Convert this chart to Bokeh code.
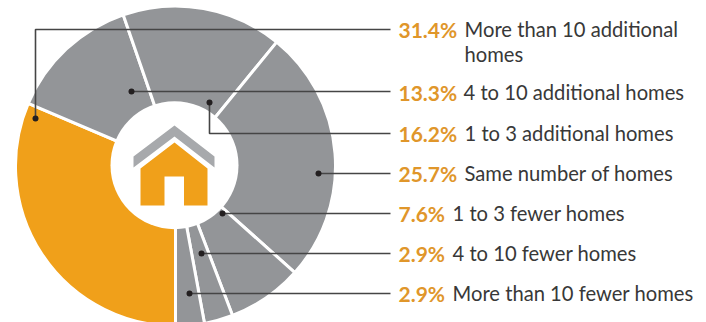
import math
from bokeh.plotting import figure
from bokeh.models import Range1d
from bokeh.core.properties import value
from bokeh.embed import file_html
from bokeh.resources import INLINE

# Survey shares, clockwise from six o'clock
shares = [31.4, 13.3, 16.2, 25.7, 7.6, 2.9, 2.9]
pct_labels = ["31.4%", "13.3%", "16.2%", "25.7%", "7.6%", "2.9%", "2.9%"]
cat_labels = ["More than 10 additional", "4 to 10 additional homes", "1 to 3 additional homes",
              "Same number of homes", "1 to 3 fewer homes", "4 to 10 fewer homes",
              "More than 10 fewer homes"]
slice_colors = ["#F0A01A", "#939598", "#939598", "#939598", "#939598", "#939598", "#939598"]

W, H = 706, 322
ORANGE, GREY, INK = "#F0A01A", "#939598", "#383838"
CX, CY, R_OUT = 175, 165.5, 160
HUB_X, HUB_Y, R_IN = 174, 164.7, 64


def fy(y):
    """Top-down pixel row to the upward data axis."""
    return H - y


p = figure(width=W, height=H, output_backend="svg", toolbar_location=None,
           x_range=Range1d(0, W), y_range=Range1d(0, H), min_border=0)
p.axis.visible = False
p.grid.visible = False
p.outline_line_color = None
p.background_fill_color = "white"

# Ring: shares accumulate clockwise, starting at the bottom
total = sum(shares)
starts, ends, run = [], [], 0.0
for s in shares:
    a0 = -math.pi / 2 - 2 * math.pi * run / total
    run += s
    a1 = -math.pi / 2 - 2 * math.pi * run / total
    starts.append(a1)
    ends.append(a0)
p.wedge(x=CX, y=fy(CY), radius=R_OUT, start_angle=starts, end_angle=ends,
        fill_color=slice_colors, line_color="white", line_width=3)
p.scatter(x=[HUB_X], y=[fy(HUB_Y)], size=2 * R_IN, marker="circle", fill_color="white", line_color=None)

# House icon in the hub
roof_x = [174, 214, 214, 174, 133, 133]
roof_y = [125, 156, 167, 136, 167, 156]
p.patch(roof_x, [fy(v) for v in roof_y], fill_color="#A7A9AC", line_color=None)
house_x = [174, 207, 207, 183.5, 183.5, 164, 164, 140, 140]
house_y = [142, 168, 205, 205, 176, 176, 205, 205, 168]
p.patch(house_x, [fy(v) for v in house_y], fill_color=ORANGE, line_color=None)

# Leader lines run from a dot inside each slice to its label row
leaders_x = [[35, 35, 390], [131, 390], [209, 209, 390], [318, 390], [222, 390], [201, 390], [189, 390]]
leaders_y = [[118, 29, 29], [91, 91], [102, 133, 133], [173, 173], [213, 213], [253, 253], [293, 293]]
for xs, ys in zip(leaders_x, leaders_y):
    p.line(xs, [fy(v) for v in ys], line_color="#454545", line_width=1.6)
p.scatter(x=[xs[0] for xs in leaders_x], y=[fy(ys[0]) for ys in leaders_y], size=6,
          marker="circle", fill_color="#231F20", line_color=None)

# Labels
rows = [28.5, 91.5, 132.5, 172.5, 212.5, 252.5, 292.5]
label_x = [464, 463, 464, 464, 452, 452, 452]
p.text(x=[398] * 7, y=[fy(v) for v in rows], text=pct_labels, text_font=value("Lato"),
       text_font_size="21px", text_font_style="bold", text_color="#E0962A",
       text_baseline="middle", text_align="left")
p.text(x=label_x, y=[fy(v) for v in rows], text=cat_labels, text_font=value("Lato"),
       text_font_size="20.2px", text_color=INK, text_baseline="middle", text_align="left")
p.text(x=[464], y=[fy(53.5)], text=["homes"], text_font=value("Lato"),
       text_font_size="20.2px", text_color=INK, text_baseline="middle", text_align="left")

open("out.html", "w").write(file_html(p, INLINE))
